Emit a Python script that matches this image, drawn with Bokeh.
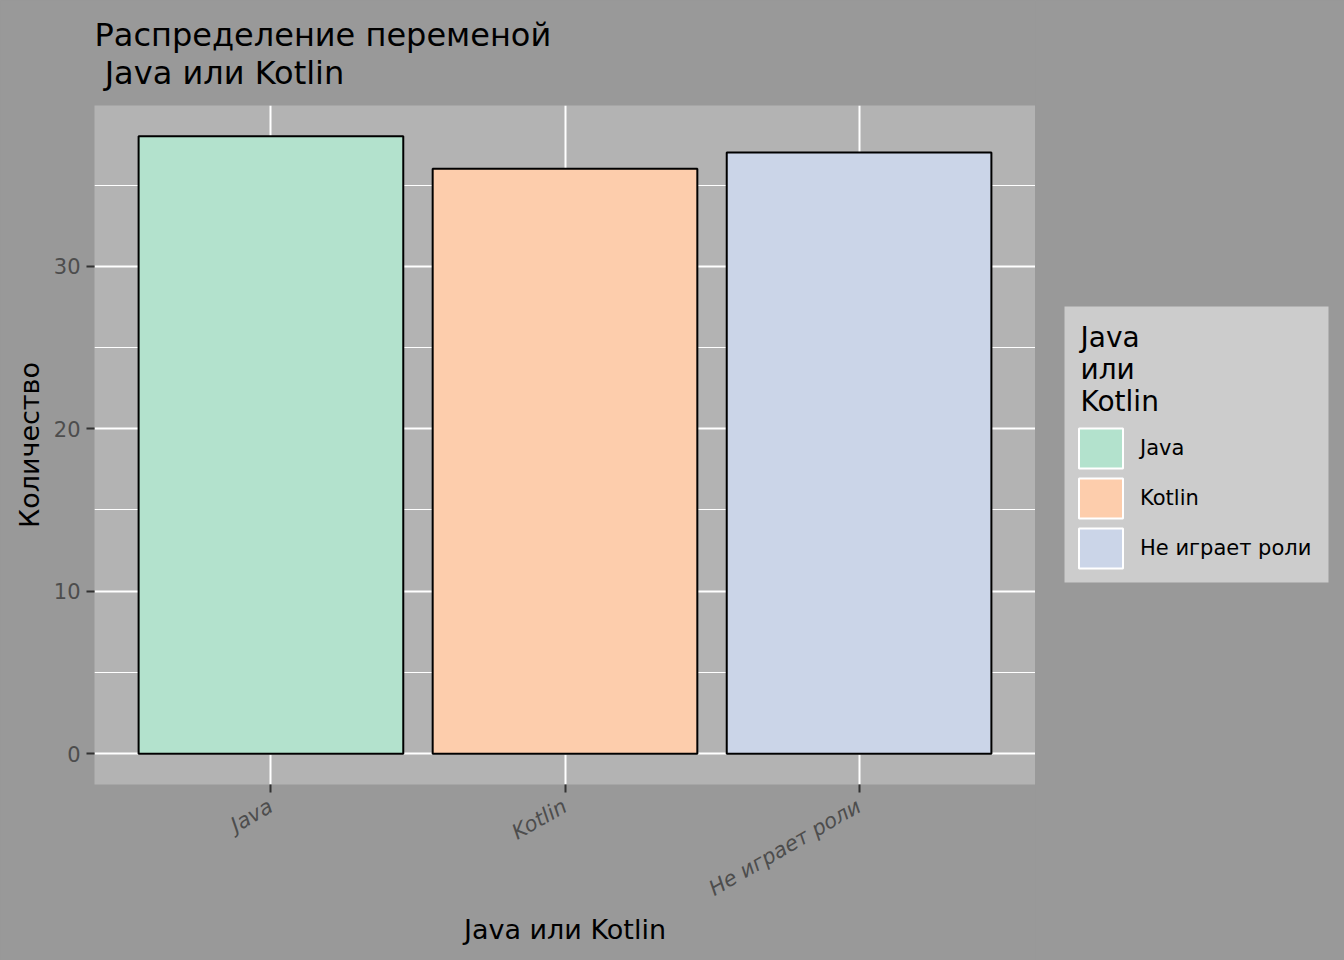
import math

from bokeh.plotting import figure
from bokeh.layouts import row
from bokeh.models import (ColumnDataSource, FactorRange, Range1d, FixedTicker,
                          Legend, LegendItem, Label, BoxAnnotation)
from bokeh.embed import file_html
from bokeh.resources import INLINE

# data
categories = ["Java", "Kotlin", "Не играет роли"]
counts = [38, 36, 37]
colors = ["#B3E2CD", "#FDCDAC", "#CBD5E8"]
y_ticks = [0, 10, 20, 30]
y_minor = [5, 15, 25, 35]
legend_title_lines = ["Java", "или", "Kotlin"]

FONT = "DejaVu Sans"
BG = "#999999"

src = ColumnDataSource(dict(cat=categories, n=counts, color=colors))

p = figure(width=1035, height=960,
           x_range=FactorRange(factors=categories, range_padding=0.1,
                               range_padding_units="absolute"),
           y_range=Range1d(-1.9, 39.9),
           output_backend="svg", toolbar_location=None,
           min_border_left=94, min_border_right=0,
           min_border_top=104, min_border_bottom=176)

p.border_fill_color = BG
p.background_fill_color = "#B3B3B3"
p.outline_line_color = None

# title
p.title.text = "Распределение переменой\n\u00a0Java или Kotlin"
p.title.text_font = FONT
p.title.text_font_size = "32px"
p.title.text_font_style = "normal"
p.title.text_color = "black"
p.title.standoff = 27

# grid
ticker = FixedTicker(ticks=y_ticks, minor_ticks=y_minor)
p.yaxis.ticker = ticker
p.ygrid.ticker = ticker
p.ygrid.grid_line_color = "white"
p.ygrid.grid_line_width = 2
p.ygrid.minor_grid_line_color = "white"
p.ygrid.minor_grid_line_width = 1
p.xgrid.grid_line_color = "white"
p.xgrid.grid_line_width = 2

# axes
for ax in (p.xaxis[0], p.yaxis[0]):
    ax.axis_line_color = None
    ax.major_tick_in = 0
    ax.major_tick_out = 8
    ax.major_tick_line_color = "#333333"
    ax.major_tick_line_width = 2
    ax.minor_tick_line_color = None
    ax.major_label_text_font = FONT
    ax.major_label_text_font_size = "21px"
    ax.major_label_text_color = "#4D4D4D"
    ax.major_label_standoff = 6
    ax.axis_label_text_font = FONT
    ax.axis_label_text_font_size = "27px"
    ax.axis_label_text_font_style = "normal"
    ax.axis_label_text_color = "black"

p.xaxis.axis_label = "Java или Kotlin"
p.yaxis.axis_label = "Количество"
p.yaxis.axis_label_standoff = 6
p.xaxis.axis_label_standoff = 0
p.xaxis.major_label_standoff = 12
p.xaxis.major_label_orientation = math.pi / 6
p.xaxis.major_label_text_font_style = "italic"

# bars
p.vbar(x="cat", top="n", bottom=0, width=0.9, source=src,
       fill_color="color", line_color="black", line_width=2)

# legend panel on the right
leg = figure(width=309, height=960, x_range=p.x_range, y_range=p.y_range,
             output_backend="svg", toolbar_location=None, title=None,
             x_axis_location=None, y_axis_location=None, min_border=0)
leg.border_fill_color = BG
leg.background_fill_color = BG
leg.outline_line_color = None
leg.grid.visible = False

# legend background box
leg.add_layout(BoxAnnotation(left=29, right=293, bottom=202, top=478,
                             left_units="screen", right_units="screen",
                             bottom_units="screen", top_units="screen",
                             fill_color="#CCCCCC", fill_alpha=1, line_color=None))

# legend title, one line per label (ggplot wrapped it)
for i, line in enumerate(legend_title_lines):
    leg.add_layout(Label(x=45, y=464 - 32 * i, x_units="screen", y_units="screen",
                         text=line, text_baseline="top",
                         text_font=FONT, text_font_size="28px", text_color="black"))

key = leg.vbar(x="cat", top="n", bottom=0, width=0.9, source=src,
               fill_color="color", line_color="white", line_width=2, visible=False)

items = [LegendItem(label=c, renderers=[key], index=i) for i, c in enumerate(categories)]
legend = Legend(items=items, location=(38, 211),
                label_text_font=FONT, label_text_font_size="21px",
                label_text_color="black",
                glyph_width=55, glyph_height=50, spacing=0,
                padding=0, label_standoff=12,
                background_fill_alpha=0, border_line_color=None,
                inactive_fill_alpha=0)
leg.add_layout(legend)

layout = row(p, leg, styles={"background-color": BG})
open("out.html", "w").write(file_html(layout, INLINE))
